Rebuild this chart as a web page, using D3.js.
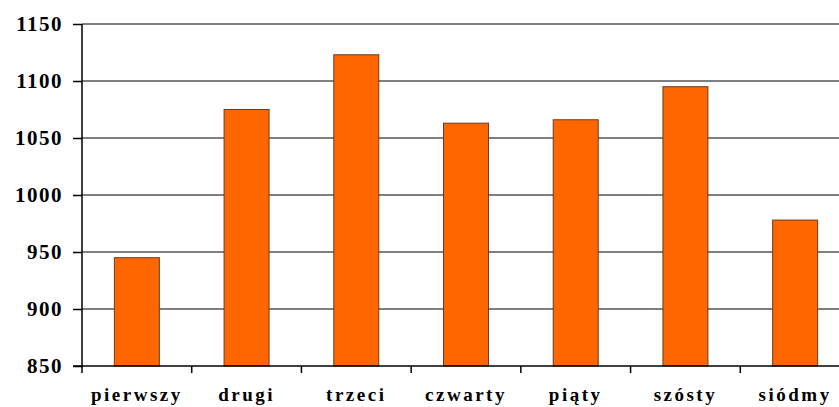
<!doctype html>
<html>
<head>
<meta charset="utf-8">
<script src="https://d3js.org/d3.v7.min.js"></script>
<style>
    html, body { margin: 0; background: #fff; }
    svg text { font-family: "Liberation Serif", "Times New Roman", serif; font-weight: bold; fill: #000; }
</style>
</head>
<body>
<svg id="chart" width="839" height="407"></svg>
<script>
var categories = ["pierwszy", "drugi", "trzeci", "czwarty", "piąty", "szósty", "siódmy"];
var values = [945, 1075, 1123, 1063, 1066, 1095, 978];
var yTicks = [850, 900, 950, 1000, 1050, 1100, 1150];

var svg = d3.select("#chart");
// plot area runs past the right edge of the picture, like the original crop
var plotLeft = 82, plotRight = 850, plotTop = 24, plotBottom = 366;

var x = d3.scaleBand().domain(categories).range([plotLeft, plotRight]).paddingInner(0.59).paddingOuter(0.295);
var band = d3.scaleBand().domain(categories).range([plotLeft, plotRight]);
var y = d3.scaleLinear().domain([850, 1150]).range([plotBottom, plotTop]);

// gridlines
svg.append("g").selectAll("line").data(yTicks.slice(1)).enter().append("line")
    .attr("x1", plotLeft).attr("x2", plotRight)
    .attr("y1", function(d) { return y(d); }).attr("y2", function(d) { return y(d); })
    .attr("stroke", "#555").attr("stroke-width", 1.5);

// bars
svg.append("g").selectAll("rect").data(values).enter().append("rect")
    .attr("x", function(d, i) { return x(categories[i]); })
    .attr("width", x.bandwidth())
    .attr("y", function(d) { return y(d); })
    .attr("height", function(d) { return plotBottom - y(d); })
    .attr("fill", "#ff6600").attr("stroke", "#6b3a22").attr("stroke-width", 1);

// y axis
var yAxis = svg.append("g").attr("transform", "translate(" + plotLeft + ",0)")
    .call(d3.axisLeft(y).tickValues(yTicks).tickSize(9).tickFormat(d3.format("d")));
yAxis.select(".domain").remove();
yAxis.selectAll(".tick line").attr("stroke", "#000").attr("stroke-width", 1.5);
yAxis.selectAll(".tick text").attr("x", -19).attr("dy", "0.3em")
    .attr("fill", "#000")
    .style("font-size", "21px").style("letter-spacing", "1.5px")
    .style("font-family", "'Liberation Serif', serif");
svg.append("line").attr("x1", plotLeft).attr("x2", plotLeft).attr("y1", plotTop).attr("y2", plotBottom + 7)
    .attr("stroke", "#000").attr("stroke-width", 1.5);

// x axis
svg.append("line").attr("x1", plotLeft - 9).attr("x2", plotRight).attr("y1", plotBottom).attr("y2", plotBottom)
    .attr("stroke", "#000").attr("stroke-width", 1.5);
svg.append("g").selectAll("line").data(categories.slice(1)).enter().append("line")
    .attr("x1", function(d) { return band(d); }).attr("x2", function(d) { return band(d); })
    .attr("y1", plotBottom).attr("y2", plotBottom + 7)
    .attr("stroke", "#000").attr("stroke-width", 1.5);

svg.append("g").selectAll("text").data(categories).enter().append("text")
    .attr("x", function(d) { return band(d) + band.bandwidth() / 2; })
    .attr("y", 401)
    .attr("text-anchor", "middle")
    .style("font-size", "19px").style("letter-spacing", "2.5px")
    .text(function(d) { return d; });
</script>
</body>
</html>
